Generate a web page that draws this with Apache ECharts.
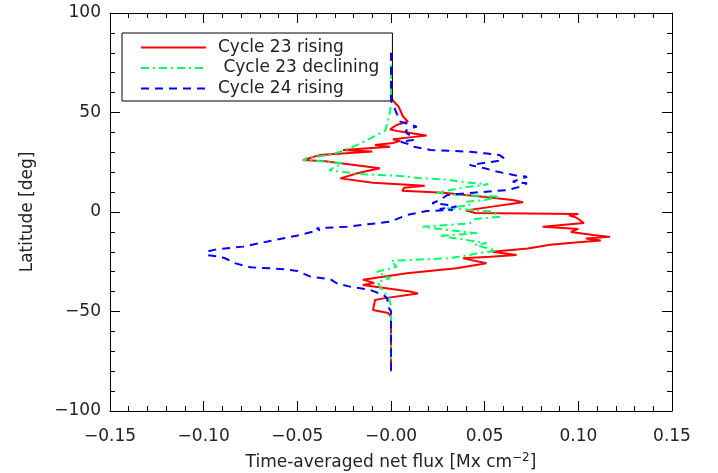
<!DOCTYPE html>
<html>
<head>
<meta charset="utf-8">
<script src="https://cdn.jsdelivr.net/npm/echarts@6/dist/echarts.min.js"></script>
<style>html,body{margin:0;padding:0;background:#fff;}#c{width:718px;height:473px;}</style>
</head>
<body>
<div id="c"></div>
<script>
// ---- data ----
const seriesNames = ['Cycle 23 rising', ' Cycle 23 declining', 'Cycle 24 rising'];
const xTicks = [-0.15, -0.10, -0.05, 0, 0.05, 0.10, 0.15];
const xTickLabels = ['\u22120.15', '\u22120.10', '\u22120.05', '\u22120.00', '0.05', '0.10', '0.15'];
const yTicks = [-100, -50, 0, 50, 100];
const yTickLabels = ['\u2212100', '\u221250', '0', '50', '100'];

const redLat = [80, 58, 56, 53, 51, 48, 45.5, 43.7, 41.5, 40.4, 38.4, 37.5, 36.5, 35.8, 34.7, 33.7, 32.8, 31.8, 31.2, 30.4, 29.5, 28.6, 26.1, 25.5, 24.8, 22, 19.5, 16.9, 14.7, 13.2, 12.2, 10.7, 9.7, 8, 6, 4.9, 2.7, 0.7, -0.5, -1, -1.7, -2.5, -3.5, -5.5, -7.4, -8.5, -10, -11.5, -12.5, -13.3, -14.3, -15.2, -16.5, -18.3, -20, -21.6, -22.5, -23.3, -25.8, -28.3, -30.8, -34, -35.7, -36.7, -40, -40.9, -43.4, -44.2, -49.2, -50.8, -52.6, -80];
const redFlux = [0, 0, 0.001, 0.004, 0.005, 0.0064, 0.009, 0.003, -0.0005, 0.005, 0.019, 0.010, 0.001, 0.005, 0.001, -0.0085, -0.0005, 0, -0.0256, -0.010, -0.011, -0.038, -0.047, -0.035, -0.029, -0.006, -0.018, -0.027, -0.0096, 0.018, 0.007, 0.006, 0.028, 0.045, 0.065, 0.0705, 0.054, 0.040, 0.045, 0.100, 0.095, 0.098, 0.100, 0.103, 0.081, 0.100, 0.096, 0.108, 0.117, 0.104, 0.112, 0.100, 0.085, 0.073, 0.054, 0.067, 0.053, 0.0385, 0.051, 0.035, 0.0085, -0.015, -0.009, -0.015, 0.010, 0.0144, -0.004, -0.0085, -0.0096, -0.0015, 0, 0];

const greenLat = [80, 55, 50.4, 46, 41, 37, 33.7, 30.3, 28.6, 27, 26, 25.3, 24.5, 23.5, 21, 19, 18.1, 17, 16.3, 15.2, 13.9, 12.5, 9.7, 8.8, 7.7, 6, 5.2, 3.5, 1.9, 0.2, -2.4, -3.5, -5.7, -7.4, -9, -10.7, -12, -14, -15.7, -16.5, -19.4, -20.8, -22, -23.3, -24.5, -25, -27.5, -30, -33.3, -35, -37.5, -42.6, -47, -80];
const greenFlux = [0, 0, -0.0005, -0.0016, -0.003, -0.011, -0.018, -0.027, -0.034, -0.045, -0.047, -0.035, -0.026, -0.025, -0.033, -0.015, 0.005, 0.0155, 0.030, 0.037, 0.052, 0.040, 0.0245, 0.031, 0.058, 0.050, 0.040, 0.042, 0.030, 0.054, 0.058, 0.045, 0.042, 0.017, 0.030, 0.046, 0.026, 0.040, 0.051, 0.045, 0.056, 0.046, 0.040, 0.030, 0, -0.001, 0.003, -0.0075, -0.0005, -0.007, -0.006, -0.0015, 0, 0];

const blueLat = [80, 56, 52, 49.6, 45.4, 42.9, 41, 39.5, 37.5, 36.2, 35.3, 34, 32.8, 31.2, 30.3, 29.5, 28.6, 27.2, 26.1, 24.8, 23.6, 22, 20.3, 18.5, 17.7, 15.2, 14.4, 12.5, 11, 9.7, 8.5, 6, 4.4, 3.5, 2.7, 1.5, 1, 0.5, -1.5, -2.3, -4.9, -7.4, -8.2, -9, -11.9, -14.6, -17.4, -18.7, -19.9, -21.6, -22.5, -23.5, -25.8, -27.8, -28.6, -29.6, -32.5, -33.7, -35.8, -37.5, -39.2, -40, -41.7, -43.4, -47.6, -50, -80];
const blueFlux = [0, 0, 0.002, 0.003, 0.005, 0.0138, 0.008, 0.0085, 0.012, 0.0117, 0.005, 0.010, 0.012, 0.021, 0.042, 0.050, 0.058, 0.060, 0.060, 0.051, 0.042, 0.050, 0.0565, 0.066, 0.0726, 0.065, 0.0726, 0.068, 0.062, 0.044, 0.030, 0.026, 0.022, 0.031, 0.035, 0.026, 0.033, 0.019, 0.0085, 0.0085, -0.0005, -0.0236, -0.0397, -0.038, -0.0503, -0.0646, -0.079, -0.093, -0.0982, -0.0982, -0.091, -0.088, -0.083, -0.075, -0.059, -0.050, -0.043, -0.0325, -0.029, -0.022, -0.011, -0.010, -0.004, -0.002, -0.0015, 0, 0];

// ---- chart ----
function pairs(xs, ys) { return xs.map((x, i) => [x, ys[i]]); }
function fmtX(v) {
  const i = xTicks.findIndex(t => Math.abs(t - v) < 1e-9);
  return i >= 0 ? xTickLabels[i] : '';
}
function fmtY(v) {
  const i = yTicks.findIndex(t => Math.abs(t - v) < 1e-9);
  return i >= 0 ? yTickLabels[i] : '';
}
const FONT = 'DejaVu Sans';
const FS = 17;
const TXT = '#222';
const chart = echarts.init(document.getElementById('c'), null, {renderer: 'canvas'});
const common = {
  axisLine: {show: true, onZero: false, lineStyle: {color: '#000', width: 1}},
  axisTick: {show: true, inside: true, length: 10, lineStyle: {color: '#000', width: 1}},
  minorTick: {show: true, splitNumber: 5, length: 5, lineStyle: {color: '#000', width: 1}},
  splitLine: {show: false},
  minorSplitLine: {show: false}
};
chart.setOption({
  backgroundColor: '#fff',
  animation: false,
  grid: {left: 110, right: 46, top: 13, bottom: 62, show: false, containLabel: false, outerBoundsMode: 'none'},
  legend: {
    orient: 'vertical',
    left: 122, top: 33,
    padding: [6, 13, 4, 18],
    itemGap: 3.5,
    itemWidth: 65, itemHeight: 14,
    backgroundColor: '#fff',
    borderColor: '#000', borderWidth: 1, borderRadius: 0,
    itemStyle: {opacity: 0},
    textStyle: {fontFamily: FONT, fontSize: FS, color: TXT, padding: [0, 0, 0, 7]},
    data: seriesNames
  },
  xAxis: [
    Object.assign({type: 'value', position: 'bottom', min: -0.15, max: 0.15, interval: 0.05,
      name: 'Time-averaged net flux [Mx cm{sup|\u22122}]', nameLocation: 'middle', nameGap: 41,
      nameTextStyle: {fontFamily: FONT, fontSize: FS, color: TXT,
        rich: {sup: {fontFamily: FONT, fontSize: 12, color: TXT, verticalAlign: 'top', padding: [0, 0, 10, 0]}}},
      axisLabel: {formatter: fmtX, fontFamily: FONT, fontSize: FS, color: TXT, margin: 17}
    }, common),
    Object.assign({type: 'value', position: 'top', min: -0.15, max: 0.15, interval: 0.05,
      axisLabel: {show: false}}, common)
  ],
  yAxis: [
    Object.assign({type: 'value', position: 'left', min: -100, max: 100, interval: 50,
      name: 'Latitude [deg]', nameLocation: 'middle', nameGap: 74, nameRotate: 90,
      nameTextStyle: {fontFamily: FONT, fontSize: FS, color: TXT},
      axisLabel: {formatter: fmtY, fontFamily: FONT, fontSize: FS, color: TXT, margin: 9}
    }, common),
    Object.assign({type: 'value', position: 'right', min: -100, max: 100, interval: 50,
      axisLabel: {show: false}}, common)
  ],
  series: [
    {name: seriesNames[0], type: 'line', data: pairs(redFlux, redLat), symbol: 'none',
      color: '#ff0000', lineStyle: {color: '#ff0000', width: 2, type: 'solid'}, z: 3},
    {name: seriesNames[1], type: 'line', data: pairs(greenFlux, greenLat), symbol: 'none',
      color: '#00ff66', lineStyle: {color: '#00ff66', width: 2, type: [8, 4, 2, 4]}, z: 4},
    {name: seriesNames[2], type: 'line', data: pairs(blueFlux, blueLat), symbol: 'none',
      color: '#0000ff', lineStyle: {color: '#0000ff', width: 2, type: [8, 6]}, z: 5}
  ]
});
</script>
</body>
</html>
